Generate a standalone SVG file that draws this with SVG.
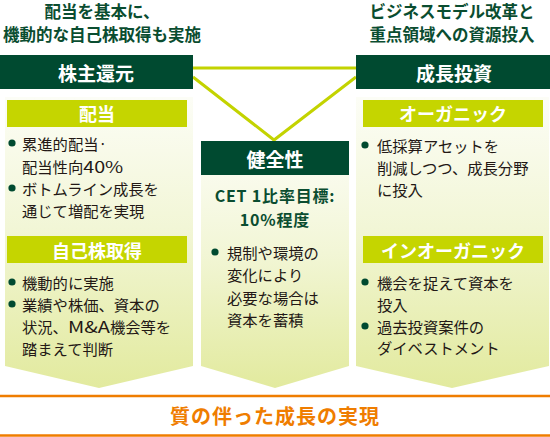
<svg xmlns="http://www.w3.org/2000/svg" width="550" height="437" viewBox="0 0 550 437">
<defs>
<linearGradient id="pg" x1="0" y1="0" x2="0" y2="1">
<stop offset="0" stop-color="#fcfdf6"/>
<stop offset="0.45" stop-color="#f2f6d6"/>
<stop offset="1" stop-color="#e2ea9e"/>
</linearGradient>
<style>
text{font-family:"Noto Sans CJK JP","Noto Sans",sans-serif;dominant-baseline:central}
.cap{fill:#0a4d30;font-size:16.5px;font-weight:bold;text-anchor:middle}
.cet{fill:#0a4d30;font-size:16px;font-weight:bold;text-anchor:middle;letter-spacing:0.8px}
.bar{fill:#004a30}
.bt{fill:#ffffff;font-size:19px;font-weight:bold;text-anchor:middle}
.hd{fill:#c5d500}
.ht{fill:#ffffff;font-size:18px;font-weight:bold;text-anchor:middle}
.tx{fill:#231815;font-size:15.3px}
.dot{fill:#004a30}
.panel{fill:url(#pg)}
.con{stroke:#c3d300;stroke-width:3;fill:none}
.org{stroke:#ef7d00;stroke-width:2.5}
</style>
</defs>
<rect width="550" height="437" fill="#ffffff"/>

<g id="connectors">
<line class="con" x1="193" y1="68" x2="356" y2="68"/>
<polyline class="con" points="193,77 274,140 356,77"/>
</g>

<g id="shareholder-return">
<text class="cap" x="102" y="11">配当を基本に、</text>
<text class="cap" x="102" y="34">機動的な自己株取得も実施</text>
<rect class="bar" x="0" y="55" width="193" height="34"/>
<text class="bt" x="96" y="72">株主還元</text>
<path class="panel" d="M5,97 H193 V366 L99,388 L5,366 Z"/>
</g>

<g id="dividend">
<rect class="hd" x="7" y="100" width="180" height="27"/>
<text class="ht" x="97" y="113">配当</text>
<circle class="dot" cx="12" cy="143" r="3.6"/>
<text class="tx" x="22" y="143">累進的配当·</text>
<text class="tx" x="22" y="166">配当性向<tspan textLength="40" lengthAdjust="spacingAndGlyphs">40%</tspan></text>
<circle class="dot" cx="12" cy="188" r="3.6"/>
<text class="tx" x="22" y="188">ボトムライン成長を</text>
<text class="tx" x="22" y="210">通じて増配を実現</text>
</g>

<g id="buyback">
<rect class="hd" x="7" y="236" width="180" height="27"/>
<text class="ht" x="97" y="250">自己株取得</text>
<circle class="dot" cx="12" cy="282" r="3.6"/>
<text class="tx" x="22" y="282">機動的に実施</text>
<circle class="dot" cx="12" cy="304" r="3.6"/>
<text class="tx" x="22" y="304">業績や株価、資本の</text>
<text class="tx" x="22" y="326">状況、<tspan textLength="42" lengthAdjust="spacingAndGlyphs">M&amp;A</tspan>機会等を</text>
<text class="tx" x="22" y="348">踏まえて判断</text>
</g>

<g id="soundness">
<path class="panel" d="M201,141 H349 V366 L275,388 L201,366 Z"/>
<rect class="bar" x="201" y="141" width="148" height="34"/>
<text class="bt" x="275" y="158">健全性</text>
<text class="cet" x="275" y="195">CET 1比率目標:</text>
<text class="cet" x="275" y="219">10%程度</text>
<circle class="dot" cx="215" cy="252" r="3.6"/>
<text class="tx" x="227" y="252">規制や環境の</text>
<text class="tx" x="227" y="274">変化により</text>
<text class="tx" x="227" y="297">必要な場合は</text>
<text class="tx" x="227" y="319">資本を蓄積</text>
</g>

<g id="growth-investment">
<text class="cap" x="452" y="11">ビジネスモデル改革と</text>
<text class="cap" x="452" y="34">重点領域への資源投入</text>
<rect class="bar" x="356" y="55" width="194" height="34"/>
<text class="bt" x="454" y="72">成長投資</text>
<path class="panel" d="M356,97 H549 V366 L452,388 L356,366 Z"/>
</g>

<g id="organic">
<rect class="hd" x="363" y="100" width="180" height="27"/>
<text class="ht" x="453" y="113">オーガニック</text>
<circle class="dot" cx="365" cy="145" r="3.6"/>
<text class="tx" x="377" y="145">低採算アセットを</text>
<text class="tx" x="377" y="167">削減しつつ、成長分野</text>
<text class="tx" x="377" y="189">に投入</text>
</g>

<g id="inorganic">
<rect class="hd" x="363" y="236" width="180" height="27"/>
<text class="ht" x="453" y="250">インオーガニック</text>
<circle class="dot" cx="365" cy="282" r="3.6"/>
<text class="tx" x="377" y="282">機会を捉えて資本を</text>
<text class="tx" x="377" y="304">投入</text>
<circle class="dot" cx="365" cy="326" r="3.6"/>
<text class="tx" x="377" y="326">過去投資案件の</text>
<text class="tx" x="377" y="347">ダイベストメント</text>
</g>

<g id="result">
<line class="org" x1="0" y1="396" x2="550" y2="396"/>
<line class="org" x1="0" y1="435.5" x2="550" y2="435.5"/>
<text x="275" y="415" style="fill:#ef7d00;font-size:20px;font-weight:bold;text-anchor:middle;letter-spacing:1px">質の伴った成長の実現</text>
</g>
</svg>
